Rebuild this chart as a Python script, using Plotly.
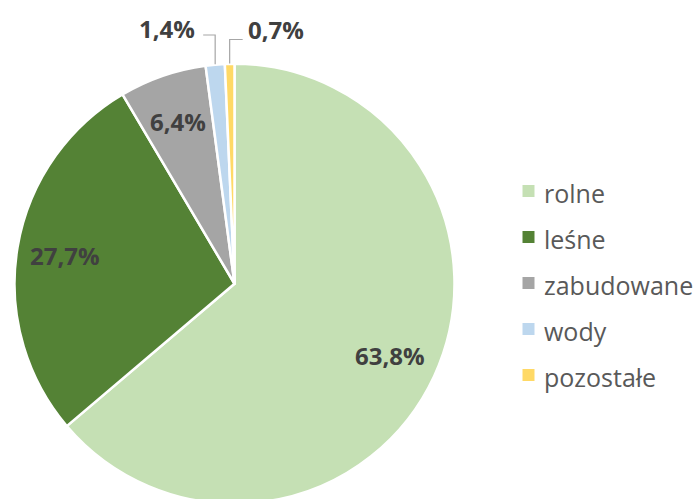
import math
import plotly.graph_objects as go

categories = ["rolne", "leśne", "zabudowane", "wody", "pozostałe"]
values = [63.8, 27.7, 6.4, 1.4, 0.7]
colors = ["#C5E0B4", "#548235", "#A5A5A5", "#BDD7EE", "#FFD966"]
inside = [True, True, True, False, False]

# body margin is removed by post_script, so figure pixels == screen pixels
W, H = 700, 504
CX, CY, R = 234.5, 283.5, 220.0

dom_x = [(CX - R) / W, (CX + R) / W]
dom_y = [0.0, 1 - (CY - R) / H]

def px(x):
    return x / W

def py(y):
    return 1 - y / H

fig = go.Figure(go.Pie(
    labels=categories, values=values, sort=False, direction="clockwise",
    rotation=0, textinfo="none", hoverinfo="label+percent",
    marker=dict(colors=colors, line=dict(color="white", width=2.5)),
    domain=dict(x=dom_x, y=dom_y), showlegend=False,
))

def fmt(v):
    return f"{v:.1f}".replace(".", ",") + "%"

label_font = dict(size=24, color="#404040", family="Open Sans")
total = sum(values)
cum = 0.0
shapes = []
annotations = []
for v, ins in zip(values, inside):
    mid = (cum + v / 2) / total * 2 * math.pi
    cum += v
    sx, sy = math.sin(mid), -math.cos(mid)
    if ins:
        tx, ty = CX + 0.78 * R * sx, CY + 0.78 * R * sy
        annotations.append(dict(x=px(tx), y=py(ty), xref="paper", yref="paper",
                                text=f"<b>{fmt(v)}</b>", showarrow=False,
                                xanchor="center", yanchor="middle", font=label_font))
    else:
        ex, ey = CX + R * sx, CY + R * sy
        left = sx < -0.05
        elbow_y = 35 if left else 39.5
        hx = ex - 12 if left else ex + 13
        shapes.append(dict(type="path", xref="paper", yref="paper",
                           path=f"M {px(ex)} {py(ey)} L {px(ex)} {py(elbow_y)} L {px(hx)} {py(elbow_y)}",
                           line=dict(color="#A6A6A6", width=1.2)))
        annotations.append(dict(x=px(hx - 6 if left else hx + 3), y=py(28.5 if left else 29.5),
                                xref="paper", yref="paper",
                                text=f"<b>{fmt(v)}</b>", showarrow=False,
                                xanchor="right" if left else "left", yanchor="middle",
                                font=label_font))

# legend (square swatch + name), laid out top to bottom
leg_x, leg_y0, leg_dy, sw = 528.5, 191.0, 46.0, 12.0
for i, (name, col) in enumerate(zip(categories, colors)):
    yc = leg_y0 + i * leg_dy
    shapes.append(dict(type="rect", xref="paper", yref="paper",
                       x0=px(leg_x - sw / 2), x1=px(leg_x + sw / 2),
                       y0=py(yc + sw / 2), y1=py(yc - sw / 2),
                       fillcolor=col, line=dict(width=0)))
    annotations.append(dict(x=px(541.5), y=py(yc + 1.5), xref="paper", yref="paper",
                            text=name, showarrow=False, xanchor="left", yanchor="middle",
                            font=dict(size=25, color="#595959", family="Open Sans")))

fig.update_layout(
    width=W, height=H, margin=dict(l=0, r=0, t=0, b=0),
    paper_bgcolor="white", plot_bgcolor="white",
    showlegend=False,
    shapes=shapes, annotations=annotations,
)

fig.write_html("out.html", config={"displayModeBar": False},
               post_script="document.body.style.margin='0';document.body.style.overflow='hidden';")
